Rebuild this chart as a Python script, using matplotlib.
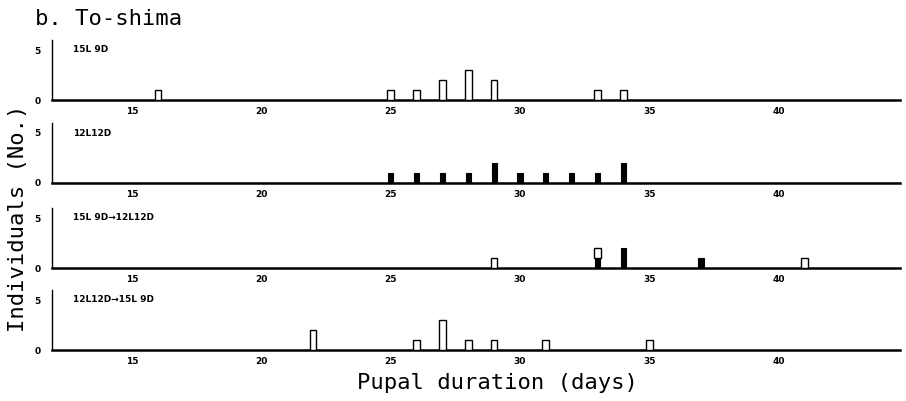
"""
Pupal duration histograms, To-shima population, four photoperiod regimes.
"""
import numpy as np
import matplotlib
matplotlib.use("Agg")
import matplotlib.pyplot as plt

# panel labels
regimes = ["15L 9D", "12L12D", "15L 9D\u219212L12D", "12L12D\u219215L 9D"]

# open bars (days, counts) per panel
open_days = [[16, 25, 26, 27, 28, 29, 33, 34], [], [29, 33, 41], [22, 26, 27, 28, 29, 31, 35]]
open_counts = [[1, 1, 1, 2, 3, 2, 1, 1], [], [1, 1, 1], [2, 1, 3, 1, 1, 1, 1]]

# filled bars (days, counts) per panel
filled_days = [[], [25, 26, 27, 28, 29, 30, 31, 32, 33, 34], [33, 34, 37], []]
filled_counts = [[], [1, 1, 1, 1, 2, 1, 1, 1, 1, 2], [1, 2, 1], []]

xticks = [15, 20, 25, 30, 35, 40]
yticks = [0, 5]

W, H = 906, 401
fig = plt.figure(figsize=(W / 100, H / 100), dpi=100)

baselines = [100, 183, 268, 350]   # pixel rows of the zero lines
left, right = 52, 900
panel_h = 60
mono = "DejaVu Sans Mono"

for i, base in enumerate(baselines):
    ax = fig.add_axes([left / W, 1 - base / H, (right - left) / W, panel_h / H])

    fd = np.array(filled_days[i])
    fc = np.array(filled_counts[i])
    if len(fd):
        ax.bar(fd, fc, width=0.2, color="black", edgecolor="black", linewidth=0.8, zorder=3)

    od = np.array(open_days[i])
    oc = np.array(open_counts[i])
    if len(od):
        # open bars sit on top of filled ones on the same day
        bottoms = np.array([fc[fd == d].sum() if len(fd) else 0 for d in od])
        ax.bar(od, oc, bottom=bottoms, width=0.26, color="white", edgecolor="black",
               linewidth=1.0, zorder=3)

    ax.set_xlim(11.9, 44.7)
    ax.set_ylim(0, 6.0)
    ax.set_xticks(xticks)
    ax.set_yticks(yticks)
    ax.tick_params(axis="x", length=0, pad=5, labelsize=6.5)
    ax.tick_params(axis="y", length=0, pad=8, labelsize=6.5)
    for lab in ax.get_xticklabels() + ax.get_yticklabels():
        lab.set_fontweight("bold")

    ax.spines["top"].set_visible(False)
    ax.spines["right"].set_visible(False)
    ax.spines["bottom"].set_linewidth(1.8)
    ax.spines["left"].set_linewidth(1.0)
    ax.patch.set_alpha(0)

    ax.text((73 - left) / (right - left), 5 / 6.0, regimes[i], transform=ax.transAxes,
            fontsize=6.5, fontweight="bold", va="center", ha="left")

fig.text(35 / W, 1 - 19 / H, "b. To-shima", fontsize=16, family=mono, va="center", ha="left")
fig.text(18 / W, 1 - 218 / H, "Individuals (No.)", fontsize=16, family=mono,
         rotation=90, va="center", ha="center")
fig.text(497 / W, 1 - 383 / H, "Pupal duration (days)", fontsize=16, family=mono,
         va="center", ha="center")

fig.savefig("out.png", dpi=100)
